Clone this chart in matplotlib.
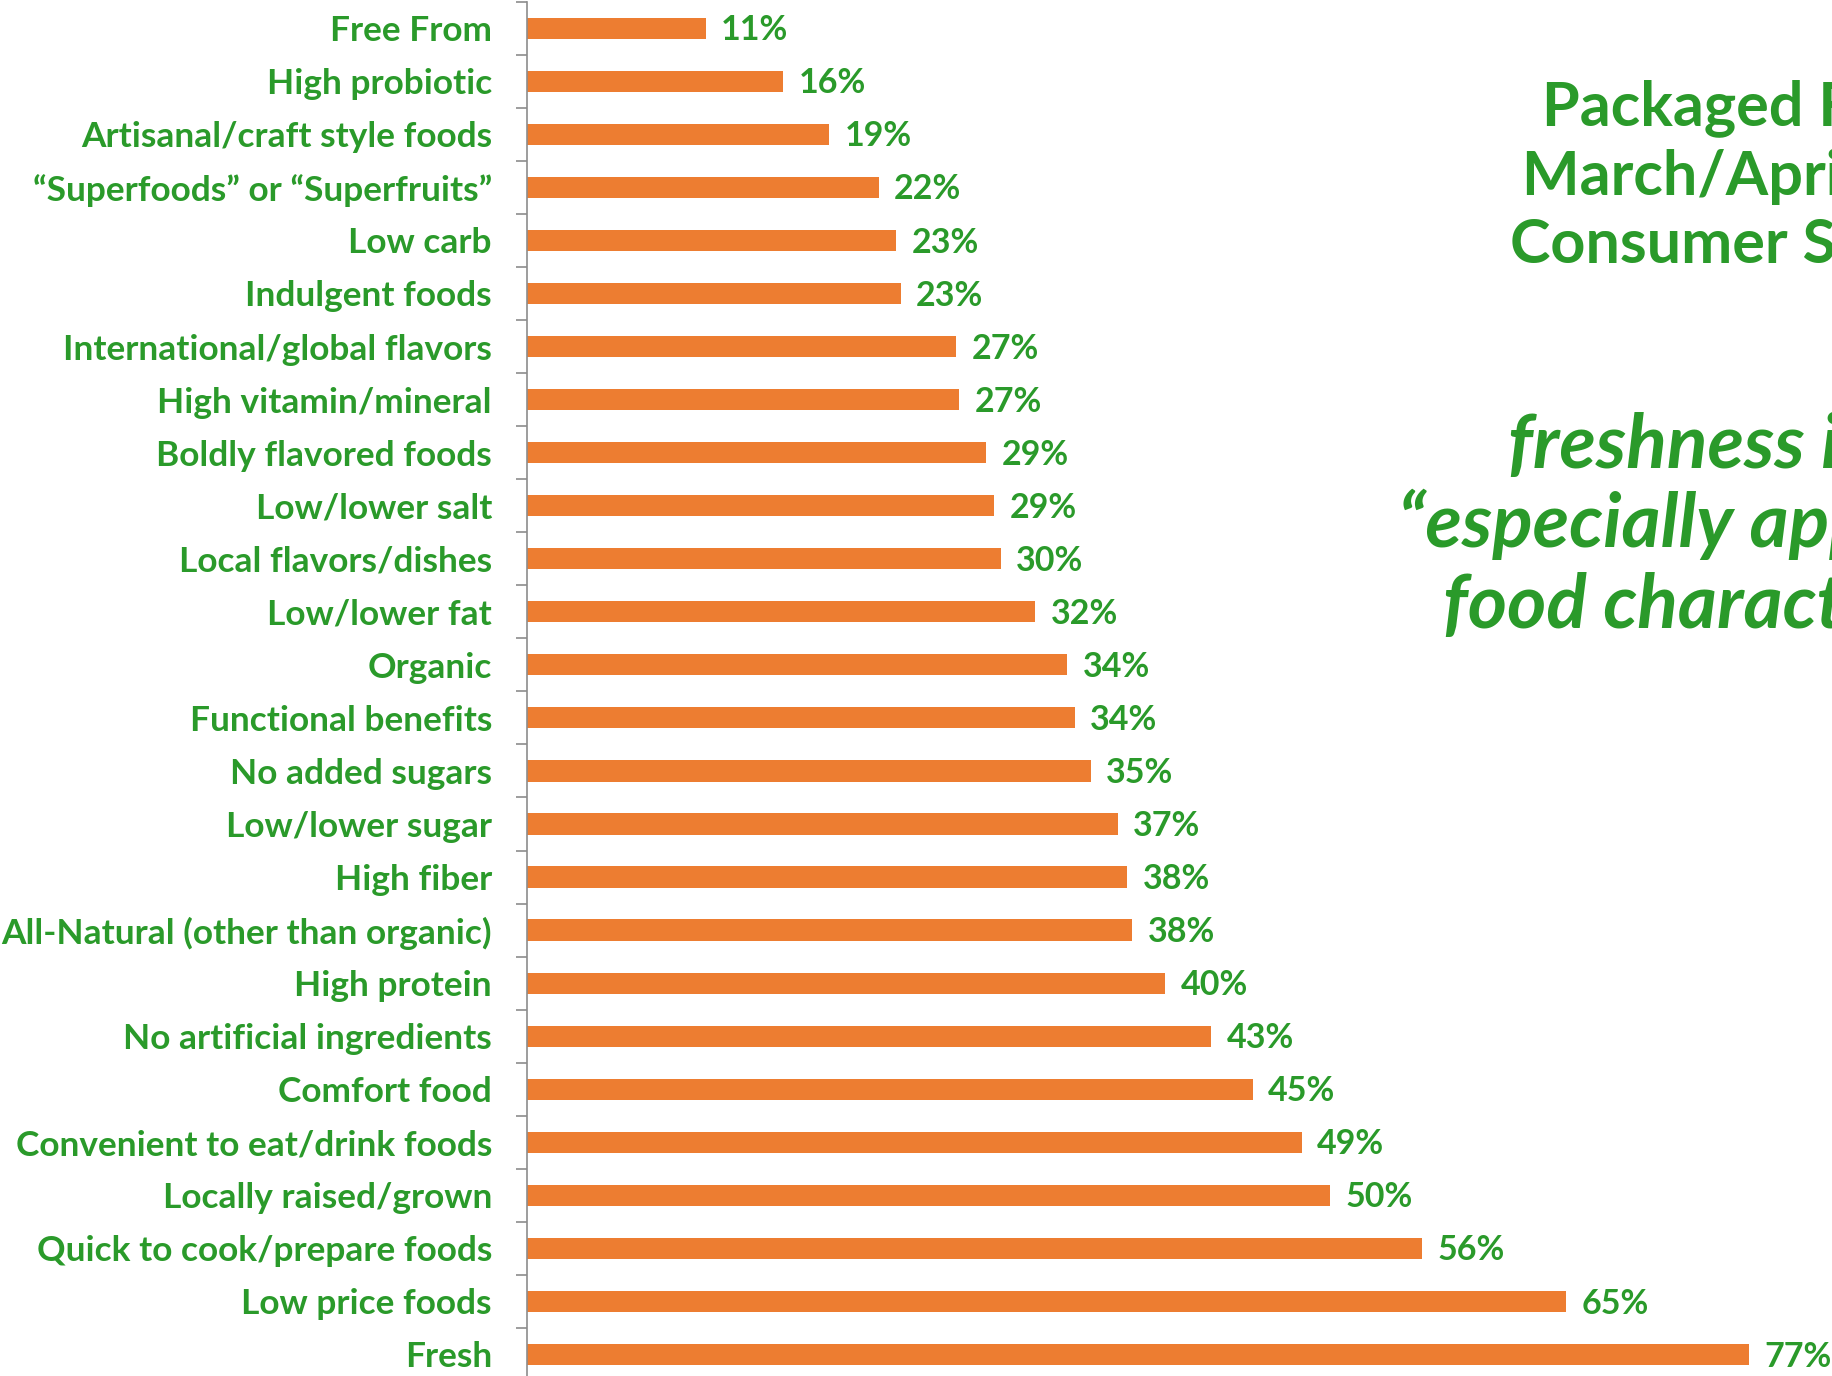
import matplotlib
matplotlib.use("Agg")
import matplotlib.pyplot as plt
import numpy as np

# data (top -> bottom)
categories = [
    "Free From", "High probiotic", "Artisanal/craft style foods",
    "\u201cSuperfoods\u201d or \u201cSuperfruits\u201d", "Low carb", "Indulgent foods",
    "International/global flavors", "High vitamin/mineral", "Boldly flavored foods",
    "Low/lower salt", "Local flavors/dishes", "Low/lower fat", "Organic",
    "Functional benefits", "No added sugars", "Low/lower sugar", "High fiber",
    "All-Natural (other than organic)", "High protein", "No artificial ingredients",
    "Comfort food", "Convenient to eat/drink foods", "Locally raised/grown",
    "Quick to cook/prepare foods", "Low price foods", "Fresh",
]
values = [11.3, 16.2, 19.1, 22.2, 23.3, 23.6, 27.1, 27.3, 29.0, 29.5, 29.9, 32.1, 34.1,
          34.6, 35.6, 37.3, 37.9, 38.2, 40.3, 43.2, 45.8, 48.9, 50.7, 56.5, 65.6, 77.1]
labels = [11, 16, 19, 22, 23, 23, 27, 27, 29, 29, 30, 32, 34,
          34, 35, 37, 38, 38, 40, 43, 45, 49, 50, 56, 65, 77]

title_lines = ["Packaged Facts", "March/April 2017", "Consumer Survey"]
quote_lines = ["freshness is", "\u201cespecially appealing\u201d", "food characteristic"]

green = "#2a9a2a"
orange = "#ED7D31"
W, H = 1832, 1376

plt.rcParams["font.family"] = ["Lato", "DejaVu Sans"]

fig = plt.figure(figsize=(W / 100, H / 100), dpi=100)
ax = fig.add_axes([526.7 / W, -5.0 / H, 1 - 526.7 / W, 1379.3 / H])

y = np.arange(len(categories))
ax.barh(y, values, height=0.4, color=orange)
ax.set_ylim(len(categories) - 0.5, -0.5)
ax.set_xlim(0, (W - 526.7) / 15.85)

for s in ["top", "right", "bottom"]:
    ax.spines[s].set_visible(False)
ax.spines["left"].set_color("#8c8c8c")
ax.spines["left"].set_linewidth(1.2)
ax.set_xticks([])

ax.set_yticks(y)
ax.set_yticklabels(categories, color=green, fontsize=25.4, fontweight="bold")
ax.tick_params(axis="y", which="major", length=0, pad=25)
ax.set_yticks(np.arange(-0.5, len(categories), 1), minor=True)
ax.tick_params(axis="y", which="minor", length=8, width=1.2, color="#8c8c8c")

for yi, v, lab in zip(y, values, labels):
    ax.annotate(f"{lab}%", (v, yi), xytext=(11, -1.5), textcoords="offset points",
                va="center", ha="left", color=green, fontsize=24.5, fontweight="bold",
                annotation_clip=False)

# right hand text, cut by the slide edge as in the source slide
for txt, x0, yb in zip(title_lines, [1541.7, 1521.7, 1510], [125, 195, 263.3]):
    fig.text(x0 / W, 1 - yb / H, txt, ha="left", va="baseline", color=green,
             fontsize=44, fontweight="bold")
for txt, x0, yb in zip(quote_lines, [1508, 1398, 1443], [468.3, 546.7, 628.3]):
    fig.text(x0 / W, 1 - yb / H, txt, ha="left", va="baseline", color=green,
             fontsize=54, fontweight="bold", fontstyle="italic")

fig.savefig("out.png", dpi=100)
